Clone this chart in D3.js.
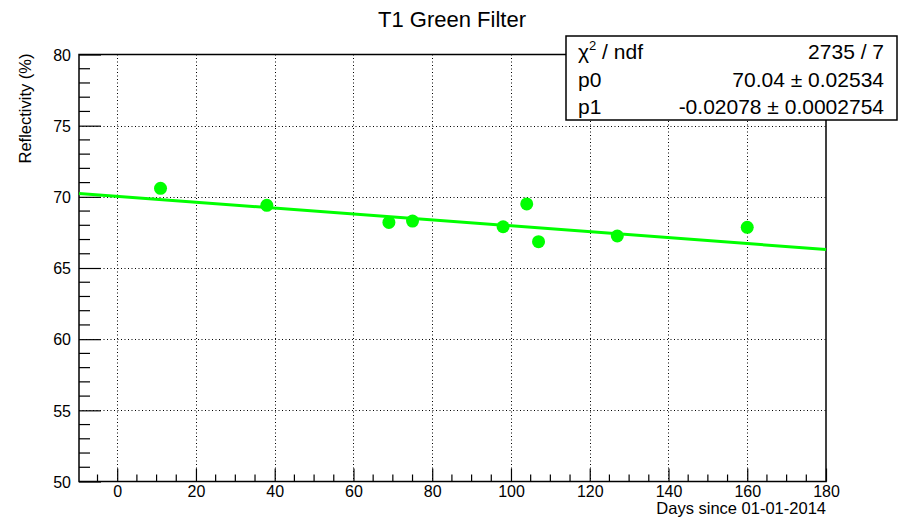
<!DOCTYPE html>
<html>
<head>
<meta charset="utf-8">
<script src="https://cdn.jsdelivr.net/npm/d3@7"></script>
<style>
  body { margin: 0; background: #fff; }
  svg { display: block; }
  text { font-family: "Liberation Sans", Arial, Helvetica, sans-serif; fill: #000; }
</style>
</head>
<body>
<svg id="chart" width="907" height="520"></svg>
<script>
// ---- data ----
const days = [11, 38, 69, 75, 98, 104, 107, 127, 160];
const reflectivity = [70.6, 69.4, 68.2, 68.3, 67.9, 69.5, 66.85, 67.25, 67.86];
const fitP0 = 70.04;
const fitP1 = -0.02078;
const xTicks = [0, 20, 40, 60, 80, 100, 120, 140, 160, 180];
const yTicks = [50, 55, 60, 65, 70, 75, 80];
const statsLabels = ["\u03C7\u00B2 / ndf", "p0", "p1"];
const statsValues = ["2735 / 7", "70.04 \u00B1 0.02534", "-0.02078 \u00B1 0.0002754"];

// ---- layout ----
const svg = d3.select("#chart");
const L = 79, R = 826, T = 54.5, B = 481.5;
const x = d3.scaleLinear().domain([-9.7, 180]).range([L, R]);
const y = d3.scaleLinear().domain([50, 80]).range([B, T]);

// grid
const grid = svg.append("g").attr("stroke", "#000").attr("stroke-width", 1)
  .attr("stroke-dasharray", "1,2.5");
grid.selectAll(".gx").data(xTicks.filter(d => d < 180)).enter().append("line")
  .attr("x1", d => Math.round(x(d)) + 0.5).attr("x2", d => Math.round(x(d)) + 0.5)
  .attr("y1", T).attr("y2", B);
grid.selectAll(".gy").data(yTicks.filter(d => d > 50 && d < 80)).enter().append("line")
  .attr("y1", d => Math.round(y(d)) + 0.5).attr("y2", d => Math.round(y(d)) + 0.5)
  .attr("x1", L).attr("x2", R);

// axes with ticks inside
const xMinor = d3.range(-5, 181, 5).filter(d => d % 20 !== 0);
const yMinor = d3.range(50, 81, 1).filter(d => d % 5 !== 0);

const xAxis = svg.append("g").attr("transform", `translate(0,${B})`)
  .call(d3.axisBottom(x).tickValues(xTicks).tickSize(-13).tickFormat(d3.format("d")));
xAxis.append("g").selectAll("line").data(xMinor).enter().append("line")
  .attr("x1", d => x(d)).attr("x2", d => x(d)).attr("y1", 0).attr("y2", -7)
  .attr("stroke", "#000");

const yAxis = svg.append("g").attr("transform", `translate(${L},0)`)
  .call(d3.axisLeft(y).tickValues(yTicks).tickSize(-22).tickFormat(d3.format("d")));
yAxis.append("g").selectAll("line").data(yMinor).enter().append("line")
  .attr("y1", d => y(d)).attr("y2", d => y(d)).attr("x1", 0).attr("x2", 11)
  .attr("stroke", "#000");

[xAxis, yAxis].forEach(a => {
  a.select(".domain").remove();
  a.selectAll("text").attr("font-size", 16).attr("fill", "#222")
    .style("font-family", "'Liberation Sans', Arial, sans-serif");
  a.selectAll("line").attr("stroke", "#000").attr("stroke-width", 1.2);
});
xAxis.selectAll(".tick text").attr("dy", 0).attr("y", 15.5);
yAxis.selectAll(".tick text").attr("x", -8).attr("dy", "0.36em");

// frame
svg.append("rect").attr("x", L).attr("y", T).attr("width", R - L).attr("height", B - T)
  .attr("fill", "none").attr("stroke", "#000").attr("stroke-width", 1.5);

// fit line
const fitLine = x.domain().map(d => [d, fitP0 + fitP1 * d]);
svg.append("path").datum(fitLine)
  .attr("d", d3.line().x(d => x(d[0])).y(d => y(d[1])))
  .attr("stroke", "#00ff00").attr("stroke-width", 3).attr("fill", "none");

// points
svg.append("g").selectAll("circle").data(days).enter().append("circle")
  .attr("cx", d => x(d)).attr("cy", (d, i) => y(reflectivity[i]))
  .attr("r", 6.5).attr("fill", "#00ff00");

// title
svg.append("text").attr("x", 452).attr("y", 27).attr("text-anchor", "middle")
  .attr("font-size", 22).attr("fill", "#111").text("T1 Green Filter");

// axis titles
svg.append("text").attr("x", R).attr("y", 514).attr("text-anchor", "end")
  .attr("font-size", 16.5).attr("fill", "#111").text("Days since 01-01-2014");
svg.append("text").attr("transform", `translate(31,${T - 1}) rotate(-90)`)
  .attr("text-anchor", "end").attr("font-size", 16.5).attr("fill", "#111").text("Reflectivity (%)");

// stats box
const bx = 566, by = 36, bw = 331, bh = 84;
svg.append("rect").attr("x", bx).attr("y", by).attr("width", bw).attr("height", bh)
  .attr("fill", "#fff").attr("stroke", "#000").attr("stroke-width", 1.5);
const baselines = [59, 87, 114];
statsLabels.forEach((lab, i) => {
  const yy = baselines[i];
  const t = svg.append("text").attr("x", 578).attr("y", yy).attr("font-size", 21).attr("fill", "#111");
  if (i === 0) {
    t.append("tspan").text("\u03C7");
    t.append("tspan").attr("font-size", 13).attr("dy", -9).text("2");
    t.append("tspan").attr("dy", 9).text(" / ndf");
  } else {
    t.text(lab);
  }
  svg.append("text").attr("x", 884).attr("y", yy).attr("text-anchor", "end")
    .attr("font-size", 21).attr("fill", "#111").text(statsValues[i]);
});
</script>
</body>
</html>
